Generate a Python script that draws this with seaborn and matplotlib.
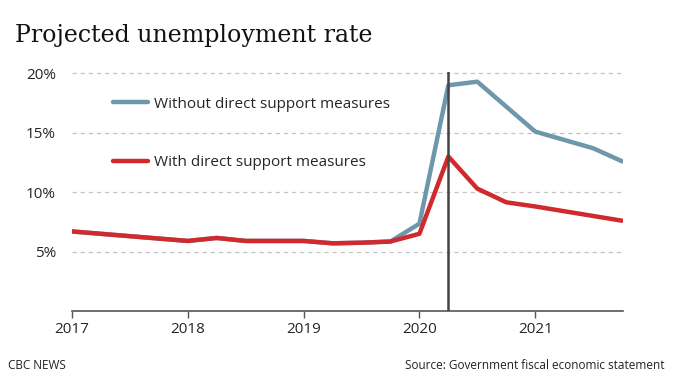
import numpy as np
import pandas as pd
import seaborn as sns
import matplotlib.pyplot as plt

# quarterly projection points
quarters = [2017.0, 2017.25, 2017.5, 2017.75, 2018.0, 2018.25, 2018.5, 2018.75,
            2019.0, 2019.25, 2019.5, 2019.75, 2020.0, 2020.25, 2020.5, 2020.75,
            2021.0, 2021.25, 2021.5, 2021.75]
without_support = [6.7, 6.5, 6.3, 6.1, 5.9, 6.15, 5.9, 5.9,
                   5.9, 5.7, 5.75, 5.85, 7.35, 19.0, 19.3, 17.2,
                   15.1, 14.4, 13.7, 12.6]
with_support = [6.7, 6.5, 6.3, 6.1, 5.9, 6.15, 5.9, 5.9,
                5.9, 5.7, 5.75, 5.85, 6.5, 13.0, 10.3, 9.15,
                8.8, 8.4, 8.0, 7.6]
year_ticks = [2017, 2018, 2019, 2020, 2021]
pct_ticks = [5, 10, 15, 20]
labels = ['Without direct support measures', 'With direct support measures']

df = pd.DataFrame({
    'quarter': quarters * 2,
    'rate': without_support + with_support,
    'scenario': [labels[0]] * len(quarters) + [labels[1]] * len(quarters),
})

sns.set_style('white')
plt.rcParams['font.family'] = ['Open Sans', 'DejaVu Sans']

fig = plt.figure(figsize=(6.91, 3.84), dpi=100)
ax = fig.add_axes([0.104, 0.19, 0.798, 0.622])

for y in pct_ticks:
    ax.axhline(y, color='#c4c4c4', lw=0.9, ls=(0, (3.5, 3)), zorder=0)

sns.lineplot(data=df, x='quarter', y='rate', hue='scenario', hue_order=labels,
             palette=['#6f97ab', '#d12a2e'], linewidth=3.2, ax=ax, zorder=3)
ax.axvline(2020.25, color='#444444', lw=1.8, zorder=4)

ax.set_xlim(2017, 2021.76)
ax.set_ylim(0, 20.1)
ax.set_xticks(year_ticks)
ax.set_xticklabels([str(y) for y in year_ticks], fontsize=11)
ax.set_yticks(pct_ticks)
ax.set_yticklabels([f'{p}%' for p in pct_ticks], fontsize=11)
ax.set_xlabel('')
ax.set_ylabel('')
for s in ['left', 'right', 'top']:
    ax.spines[s].set_visible(False)
ax.spines['bottom'].set_color('#555555')
ax.spines['bottom'].set_linewidth(1.2)
ax.tick_params(axis='x', bottom=True, length=5, color='#555555', width=1, pad=3)
ax.tick_params(axis='y', left=False, pad=8)

leg = ax.legend(loc='upper left', bbox_to_anchor=(0.05, 0.955), frameon=False,
                fontsize=11, labelspacing=2.85, handlelength=2.3, handletextpad=0.35)
for line in leg.get_lines():
    line.set_linewidth(3.2)

fig.text(0.021, 0.89, 'Projected unemployment rate', family='DejaVu Serif',
         fontsize=17.1, color='#111111')
fig.text(0.012, 0.038, 'CBC NEWS', fontsize=8.5, color='#222222')
fig.text(0.586, 0.038, 'Source: Government fiscal economic statement', fontsize=8.5,
         color='#222222')

fig.savefig('out.png', dpi=100)
